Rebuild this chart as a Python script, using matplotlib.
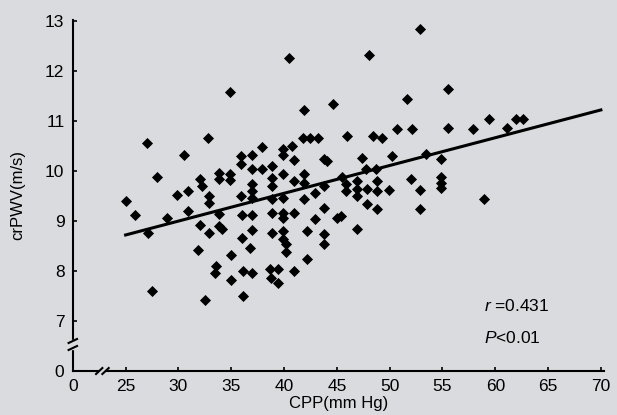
import matplotlib
matplotlib.use("Agg")
import matplotlib.pyplot as plt
from matplotlib.lines import Line2D

plt.rcParams['font.family'] = ['Liberation Sans', 'DejaVu Sans']
plt.rcParams['mathtext.fontset'] = 'custom'
plt.rcParams['mathtext.it'] = 'Liberation Sans:italic'
plt.rcParams['mathtext.rm'] = 'Liberation Sans'

# CPP (mm Hg) and crPWV (m/s)
cpp = [25.0, 25.9, 27.0, 27.1, 27.5, 28.0, 28.9, 29.9, 30.5, 30.9, 30.9,
       32.0, 32.2, 32.0, 31.9, 32.5, 32.8, 32.9, 32.9, 32.9,
       33.8, 33.8, 33.8, 33.8, 34.1, 33.6, 33.5,
       34.9, 34.9, 34.9, 35.0, 35.0,
       35.9, 35.9, 35.9, 36.0, 36.0, 36.1, 36.1,
       37.0, 37.0, 37.0, 37.0, 37.0, 37.0, 37.0, 36.8, 37.0,
       37.9, 37.9,
       38.9, 38.9, 38.9, 38.9, 38.9, 38.9, 38.7, 39.4, 38.8, 39.4,
       39.9, 39.9, 39.9, 39.9, 39.9, 39.9, 39.9, 39.9, 40.2, 40.2,
       40.5, 40.8, 40.9, 40.9, 40.9, 40.9,
       41.9, 41.8, 41.9, 41.9, 41.9, 42.2, 42.2, 42.5, 42.9, 42.9, 43.2,
       43.8, 44.1, 43.8, 43.8, 43.8, 43.8, 44.6, 45.0, 45.4, 45.5,
       46.0, 45.9, 45.9, 46.9, 46.9, 46.9, 46.9, 47.4,
       47.9, 47.9, 47.8, 48.0, 48.4, 48.7, 48.8, 48.8, 48.8, 49.3,
       49.9, 50.2, 50.7, 51.6, 52.1, 52.0, 52.9, 52.9, 52.9, 53.4,
       54.9, 54.9, 54.9, 54.9, 55.5, 55.5, 57.9, 58.9, 59.4, 61.1, 62.0, 62.6]
crpwv = [9.40, 9.12, 10.56, 8.76, 7.60, 9.88, 9.06, 9.52, 10.32, 9.60, 9.20,
         9.84, 9.70, 8.92, 8.42, 7.42, 10.66, 9.50, 9.36, 8.76,
         9.96, 9.84, 9.14, 8.90, 8.84, 8.10, 7.96,
         11.58, 9.94, 9.82, 8.32, 7.82,
         10.30, 10.14, 9.50, 9.12, 8.66, 8.00, 7.50,
         10.32, 10.04, 9.74, 9.60, 9.46, 9.12, 8.82, 8.46, 7.96,
         10.48, 10.04,
         10.10, 9.86, 9.70, 9.44, 9.16, 8.76, 8.04, 8.04, 7.86, 7.76,
         10.44, 10.32, 9.94, 9.46, 9.16, 9.06, 8.80, 8.64, 8.54, 8.38,
         12.26, 10.50, 10.22, 9.80, 9.16, 8.00,
         11.22, 10.66, 9.94, 9.76, 9.44, 8.80, 8.24, 10.66, 9.56, 9.04, 10.66,
         10.24, 10.20, 9.70, 9.26, 8.74, 8.54, 11.34, 9.06, 9.10, 9.88,
         10.70, 9.74, 9.60, 9.80, 9.64, 9.50, 8.84, 10.26,
         9.64, 9.34, 10.04, 12.32, 10.70, 10.04, 9.80, 9.60, 9.24, 10.66,
         9.62, 10.30, 10.84, 11.44, 10.84, 9.84, 12.84, 9.62, 9.24, 10.34,
         10.24, 9.88, 9.76, 9.66, 11.64, 10.86, 10.84, 9.44, 11.04, 10.86, 11.04, 11.04]

fit_x = [25, 70]
fit_y = [8.72, 11.22]

x_ticks = [20, 25, 30, 35, 40, 45, 50, 55, 60, 65, 70]
x_labels = ['0', '25', '30', '35', '40', '45', '50', '55', '60', '65', '70']
y_ticks = [6, 7, 8, 9, 10, 11, 12, 13]
y_labels = ['0', '7', '8', '9', '10', '11', '12', '13']

bg = '#dadbde'
fig = plt.figure(figsize=(6.17, 4.15), dpi=100, facecolor=bg)
ax = fig.add_axes([0.118, 0.106, 0.861, 0.846], facecolor=bg)

ax.scatter(cpp, crpwv, marker='D', s=32, color='black', linewidths=0, zorder=3)
ax.plot(fit_x, fit_y, color='black', lw=2.2, zorder=2)

ax.set_xlim(20, 70.3)
ax.set_ylim(6, 13.02)
ax.set_xticks(x_ticks)
ax.set_xticklabels(x_labels)
ax.set_yticks(y_ticks)
ax.set_yticklabels(y_labels)
ax.tick_params(direction='in', length=3, width=1.2, labelsize=12.5, pad=6)
for s in ['top', 'right']:
    ax.spines[s].set_visible(False)
for s in ['left', 'bottom']:
    ax.spines[s].set_linewidth(1.5)

ax.set_xlabel('CPP(mm Hg)', fontsize=12, labelpad=1)
ax.set_ylabel('crPWV(m/s)', fontsize=12, labelpad=14)

# axis breaks
tr = ax.transData
ax.add_patch(plt.Rectangle((19.5, 6.45), 1, 0.17, transform=tr, color=bg,
                           clip_on=False, zorder=4))
ax.add_line(Line2D([19.6, 20.4], [6.42, 6.50], color='black', lw=1.5,
                   transform=tr, clip_on=False, zorder=5))
ax.add_line(Line2D([19.6, 20.4], [6.56, 6.64], color='black', lw=1.5,
                   transform=tr, clip_on=False, zorder=5))
ax.add_patch(plt.Rectangle((22.5, 5.9), 0.5, 0.2, transform=tr, color=bg,
                           clip_on=False, zorder=4))
ax.add_line(Line2D([22.2, 22.8], [5.94, 6.06], color='black', lw=1.5,
                   transform=tr, clip_on=False, zorder=5))
ax.add_line(Line2D([22.8, 23.4], [5.94, 6.06], color='black', lw=1.5,
                   transform=tr, clip_on=False, zorder=5))

ax.text(58.9, 7.3, r'$r$ =0.431', fontsize=12.5, va='center')
ax.text(58.9, 6.66, r'$P$<0.01', fontsize=12.5, va='center')

fig.savefig('out.png', dpi=100, facecolor=bg)
